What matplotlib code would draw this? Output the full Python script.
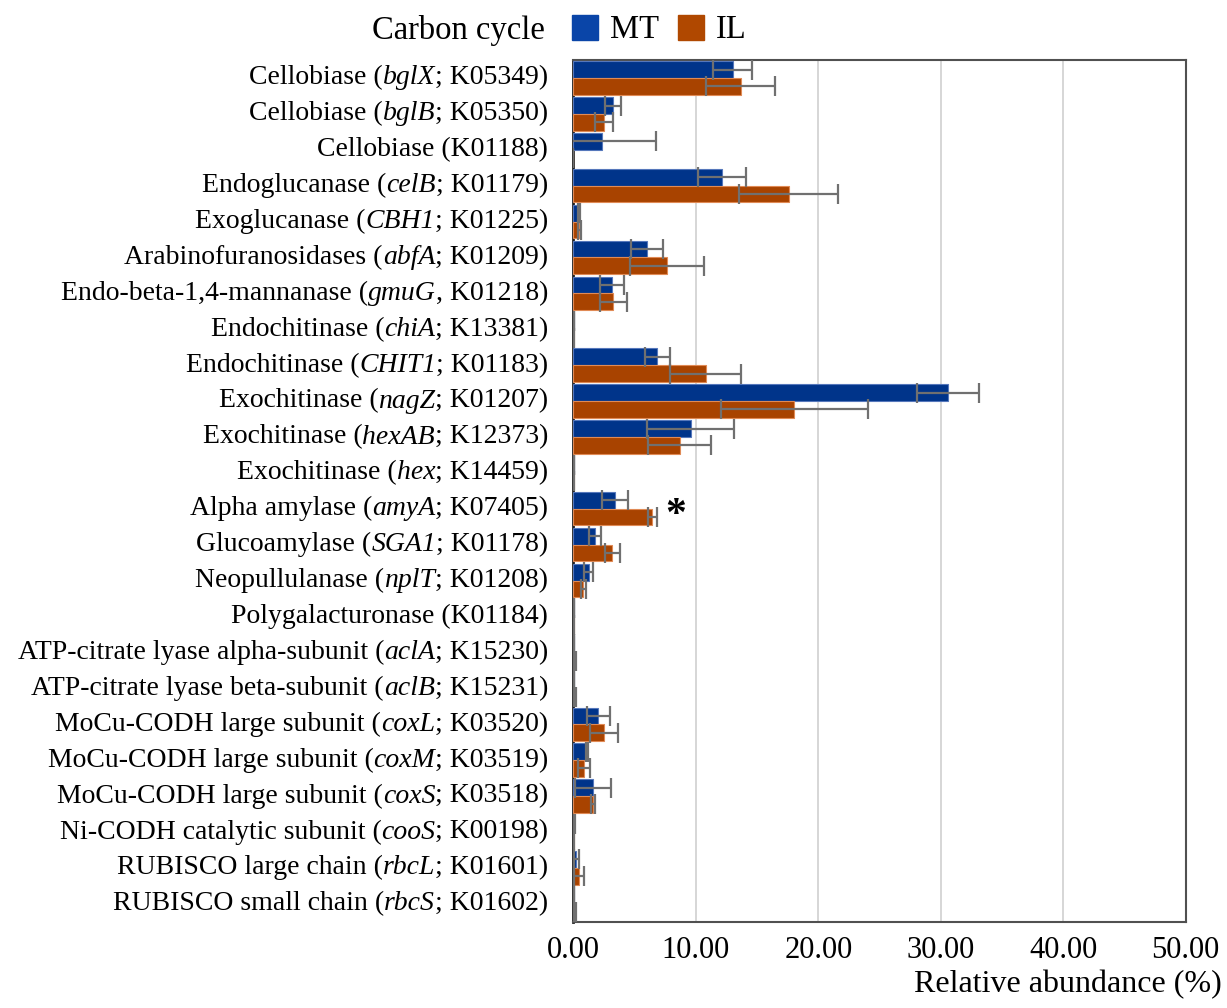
import matplotlib
matplotlib.use("Agg")
import matplotlib.pyplot as plt
import numpy as np
from matplotlib.patches import Patch
from matplotlib.offsetbox import TextArea, HPacker, AnnotationBbox

plt.rcParams['font.family'] = 'Liberation Serif'

enzymes = [
    "Cellobiase", "Cellobiase", "Cellobiase", "Endoglucanase", "Exoglucanase",
    "Arabinofuranosidases", "Endo-beta-1,4-mannanase", "Endochitinase", "Endochitinase",
    "Exochitinase", "Exochitinase", "Exochitinase", "Alpha amylase", "Glucoamylase",
    "Neopullulanase", "Polygalacturonase", "ATP-citrate lyase alpha-subunit",
    "ATP-citrate lyase beta-subunit", "MoCu-CODH large subunit", "MoCu-CODH large subunit",
    "MoCu-CODH large subunit", "Ni-CODH catalytic subunit", "RUBISCO large chain",
    "RUBISCO small chain",
]
genes = [
    "bglX", "bglB", "", "celB", "CBH1", "abfA", "gmuG", "chiA", "CHIT1", "nagZ", "hexAB",
    "hex", "amyA", "SGA1", "nplT", "", "aclA", "aclB", "coxL", "coxM", "coxS", "cooS",
    "rbcL", "rbcS",
]
separators = [";", ";", "", ";", ";", ";", ",", ";", ";", ";", ";", ";", ";", ";", ";", "",
              ";", ";", ";", ";", ";", ";", ";", ";"]
ko_ids = [
    "K05349", "K05350", "K01188", "K01179", "K01225", "K01209", "K01218", "K13381",
    "K01183", "K01207", "K12373", "K14459", "K07405", "K01178", "K01208", "K01184",
    "K15230", "K15231", "K03520", "K03519", "K03518", "K00198", "K01601", "K01602",
]

mt_values = [13.0, 3.27, 2.37, 12.16, 0.47, 5.99, 3.18, 0.05, 6.86, 30.6, 9.58, 0.05,
             3.4, 1.8, 1.25, 0.05, 0.02, 0.02, 2.04, 1.14, 1.61, 0.05, 0.25, 0.05]
mt_errors = [1.6, 0.65, 4.4, 1.95, 0.1, 1.3, 1.0, 0.03, 1.0, 2.5, 3.55, 0.03,
             1.05, 0.5, 0.35, 0.03, 0.0, 0.0, 0.95, 0.1, 1.45, 0.05, 0.2, 0.03]
il_values = [13.66, 2.5, 0.0, 17.58, 0.5, 7.67, 3.27, 0.03, 10.83, 18.04, 8.68, 0.02,
             6.45, 3.18, 0.82, 0.02, 0.15, 0.15, 2.5, 0.9, 1.61, 0.03, 0.47, 0.15]
il_errors = [2.8, 0.75, 0.0, 4.05, 0.1, 3.0, 1.1, 0.02, 2.9, 6.0, 2.55, 0.02,
             0.38, 0.6, 0.2, 0.02, 0.1, 0.1, 1.15, 0.5, 0.15, 0.03, 0.4, 0.1]
series_names = ["MT", "IL"]
xticks = [0, 10, 20, 30, 40, 50]
significant = [12]

mt_color = "#00348A"
il_color = "#A84300"
mt_edge = "#5577BB"
il_edge = "#E08A55"

W, H = 1227, 1008
fig = plt.figure(figsize=(W/100, H/100), dpi=100)
ax = fig.add_axes([573.3/W, 1 - 921.7/H, (1185.7-573.3)/W, (921.7-60)/H])

n = len(enzymes)
y = np.arange(n)
h = 0.465
err_kw = dict(ecolor="#707070", elinewidth=1.6, capsize=7, capthick=1.6)
ax.barh(y - h/2, mt_values, height=h, color=mt_color, edgecolor=mt_edge, linewidth=0.8,
        xerr=mt_errors, error_kw=err_kw, zorder=3)
ax.barh(y + h/2, il_values, height=h, color=il_color, edgecolor=il_edge, linewidth=0.8,
        xerr=il_errors, error_kw=err_kw, zorder=3)

ax.set_ylim(n - 0.5, -0.5)
ax.set_xlim(0, 50)
ax.set_xticks(xticks)
ax.set_xticklabels([f"{v:.2f}" for v in xticks], fontsize=22)
ax.set_yticks(y)
ax.set_yticklabels([""] * n)
ax.tick_params(axis='y', length=0)
ax.tick_params(axis='x', length=0, pad=10)
ax.grid(axis='x', color="#D0D0D0", linewidth=1.2, zorder=0)
ax.set_axisbelow(True)
for s in ax.spines.values():
    s.set_color("#505050")
    s.set_linewidth(1.5)
ax.spines['left'].set_color("#202020")
ax.spines['left'].set_linewidth(2.0)

# category labels with italic gene symbols
fs = 20
for i in range(n):
    if genes[i]:
        parts = [TextArea(f"{enzymes[i]} (", textprops=dict(fontsize=fs)),
                 TextArea(genes[i], textprops=dict(fontsize=fs, style="italic")),
                 TextArea(f"{separators[i]} {ko_ids[i]})", textprops=dict(fontsize=fs))]
    else:
        parts = [TextArea(f"{enzymes[i]} ({ko_ids[i]})", textprops=dict(fontsize=fs))]
    box = HPacker(children=parts, align="baseline", pad=0, sep=0)
    ab = AnnotationBbox(box, (0, i), xycoords=("axes fraction", "data"),
                        xybox=(-18, 0), boxcoords="offset points",
                        box_alignment=(1, 0.5), frameon=False, pad=0)
    ax.add_artist(ab)

# significance marker
for idx in significant:
    ax.text(il_values[idx] + il_errors[idx] + 1.5, idx + 0.2, "*", fontsize=30,
            ha="center", va="center", fontweight="bold")

fig.text(1222/W, 1 - 985/H, "Relative abundance (%)", fontsize=23, ha="right", va="center")

fig.text(545/W, 1 - 30/H, "Carbon cycle", fontsize=23.5, ha="right", va="center")
handles = [Patch(facecolor="#0A45A8", edgecolor="#0A45A8"),
           Patch(facecolor="#B04800", edgecolor="#B04800")]
fig.legend(handles, series_names, loc="center left", bbox_to_anchor=(572/W, 1 - 30/H),
           ncol=2, frameon=False, fontsize=23.5, handlelength=0.8, handleheight=0.8,
           handletextpad=0.37, columnspacing=0.58, borderaxespad=0, borderpad=0)

fig.savefig("out.png", dpi=100)
